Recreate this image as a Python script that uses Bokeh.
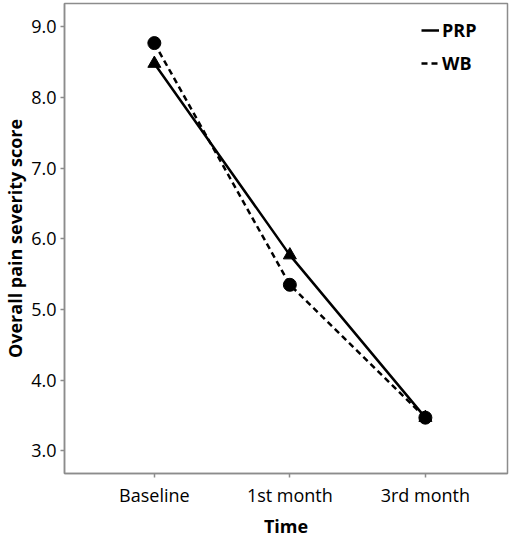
from bokeh.plotting import figure
from bokeh.models import FixedTicker, Legend, LegendItem, Range1d
from bokeh.embed import file_html
from bokeh.resources import INLINE

times = ["Baseline", "1st month", "3rd month"]
prp = [8.48, 5.77, 3.47]
wb = [8.77, 5.35, 3.47]
y_ticks = [3, 4, 5, 6, 7, 8, 9]

xs = list(range(len(times)))
FONT = "Open Sans"
GRAY = "#8c8c8c"

p = figure(width=510, height=541, output_backend="svg", toolbar_location=None,
           x_range=Range1d(-0.663, 2.606), y_range=Range1d(2.68, 9.33),
           min_border_left=64, min_border_right=3, min_border_top=3, min_border_bottom=68)
p.grid.visible = False
p.outline_line_color = GRAY
p.outline_line_width = 1.5
p.background_fill_color = "white"
p.border_fill_color = "white"

for ax in (p.xaxis[0], p.yaxis[0]):
    ax.axis_line_color = GRAY
    ax.axis_line_width = 1.5
    ax.major_tick_line_color = GRAY
    ax.major_tick_line_width = 1.5
    ax.major_tick_out = 4
    ax.major_tick_in = 0
    ax.minor_tick_line_color = None
    ax.major_label_text_font = FONT
    ax.major_label_text_font_size = "18px"
    ax.major_label_text_color = "black"
    ax.axis_label_text_font = FONT
    ax.axis_label_text_font_style = "bold"
    ax.axis_label_text_color = "black"

p.xaxis.ticker = FixedTicker(ticks=xs)
p.xaxis.major_label_overrides = {i: t for i, t in enumerate(times)}
p.xaxis.axis_label = "Time"
p.xaxis.axis_label_text_font_size = "18px"
p.xaxis.major_label_standoff = 5
p.xaxis.axis_label_standoff = 4

p.yaxis.ticker = FixedTicker(ticks=y_ticks)
p.yaxis.major_label_overrides = {v: f"{v:.1f}" for v in y_ticks}
p.yaxis.axis_label = "Overall pain severity score"
p.yaxis.axis_label_text_font_size = "18px"
p.yaxis.major_label_standoff = 4
p.yaxis.axis_label_standoff = 1

l_prp = p.line(xs, prp, line_color="black", line_width=2.5)
l_wb = p.line(xs, wb, line_color="black", line_width=2.5, line_dash="6 4")
p.scatter(xs, prp, marker="triangle", size=13, fill_color="black", line_color="black")
p.scatter(xs, wb, marker="circle", size=13, fill_color="black", line_color="black")

legend = Legend(items=[LegendItem(label="PRP", renderers=[l_prp]),
                       LegendItem(label="WB", renderers=[l_wb])],
                location=(357, 398), padding=0, margin=0, spacing=9,
                glyph_width=18, glyph_height=20, label_standoff=3,
                label_text_font=FONT, label_text_font_style="bold",
                label_text_font_size="18px", label_height=20,
                label_text_color="black",
                border_line_alpha=0, background_fill_alpha=0)
p.add_layout(legend, "center")

open("out.html", "w").write(file_html(p, INLINE))
